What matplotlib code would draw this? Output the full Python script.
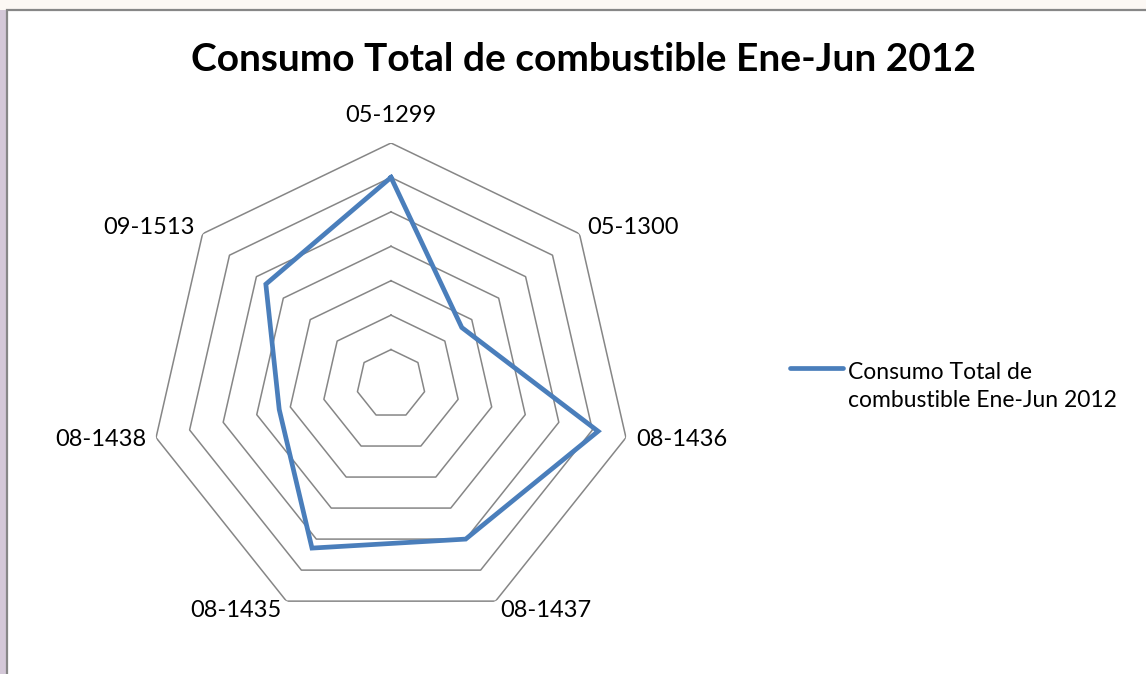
"""Radar chart: Consumo Total de combustible Ene-Jun 2012."""
import numpy as np
import matplotlib
matplotlib.use('Agg')
import matplotlib.pyplot as plt
from matplotlib.patches import Rectangle
from matplotlib.lines import Line2D

# data
categories = ['05-1299', '05-1300', '08-1436', '08-1437',
              '08-1435', '08-1438', '09-1513']
consumo = [6.0, 2.63, 6.17, 5.0, 5.29, 3.33, 4.65]
grid_levels = [1, 2, 3, 4, 5, 6, 7]
serie_name = 'Consumo Total de\ncombustible Ene-Jun 2012'
title = 'Consumo Total de combustible Ene-Jun 2012'

plt.rcParams['font.family'] = ['Lato', 'DejaVu Sans']

W, H = 1146, 674
fig = plt.figure(figsize=(W / 100, H / 100), dpi=100)
fig.patch.set_facecolor('white')

# page background outside the chart area + chart border
fig.patches.append(Rectangle((0, 1 - 10 / H), 1, 10 / H, transform=fig.transFigure,
                             facecolor='#fcf8f4', edgecolor='none', zorder=-3))
fig.patches.append(Rectangle((0, 0), 7 / W, 1 - 10 / H, transform=fig.transFigure,
                             facecolor='#d4c8d8', edgecolor='none', zorder=-3))
fig.patches.append(Rectangle((7 / W, -0.05), 1.05, 1.05 - 10 / H,
                             transform=fig.transFigure, facecolor='white',
                             edgecolor='#878787', linewidth=1.6, zorder=-2))

cx, cy, R = 391, 384, 241
ax = fig.add_axes([(cx - R) / W, (H - cy - R) / H, 2 * R / W, 2 * R / H],
                  projection='polar')
ax.set_zorder(1)
ax.set_theta_zero_location('N')
ax.set_theta_direction(-1)
ax.set_ylim(0, grid_levels[-1])
ax.grid(False)
ax.spines['polar'].set_visible(False)
ax.set_xticks([])
ax.set_yticks([])
ax.patch.set_alpha(0)

angles = np.linspace(0, 2 * np.pi, len(categories), endpoint=False)
closed = np.append(angles, angles[0])

# heptagon gridlines
for k in grid_levels:
    ax.plot(closed, [k] * len(closed), color='#868686', lw=1.1, zorder=1)

vals = consumo + consumo[:1]
line, = ax.plot(closed, vals, color='#4a7ebb', lw=3.4, zorder=3,
                solid_joinstyle='miter')

# category labels
for ang, lab in zip(angles, categories):
    s = np.sin(ang)
    if abs(s) < 1e-6:
        ax.text(ang, 7.8, lab, ha='center', va='center', fontsize=17)
    else:
        ax.text(ang, 7.3, lab, ha='left' if s > 0 else 'right',
                va='center', fontsize=17)

fig.text(583 / W, 1 - 71 / H, title, ha='center', va='baseline',
         fontsize=28, fontweight='bold')

# legend, drawn by hand so the key sits on the first text line
fig.lines.append(Line2D([790 / W, 843 / W], [1 - 368 / H, 1 - 368 / H],
                        transform=fig.transFigure, color=line.get_color(),
                        lw=line.get_linewidth(), solid_capstyle='round'))
fig.text(848 / W, 1 - 407 / H, serie_name, ha='left', va='baseline',
         fontsize=16.5, linespacing=1.4)

fig.savefig('out.png', dpi=100)
